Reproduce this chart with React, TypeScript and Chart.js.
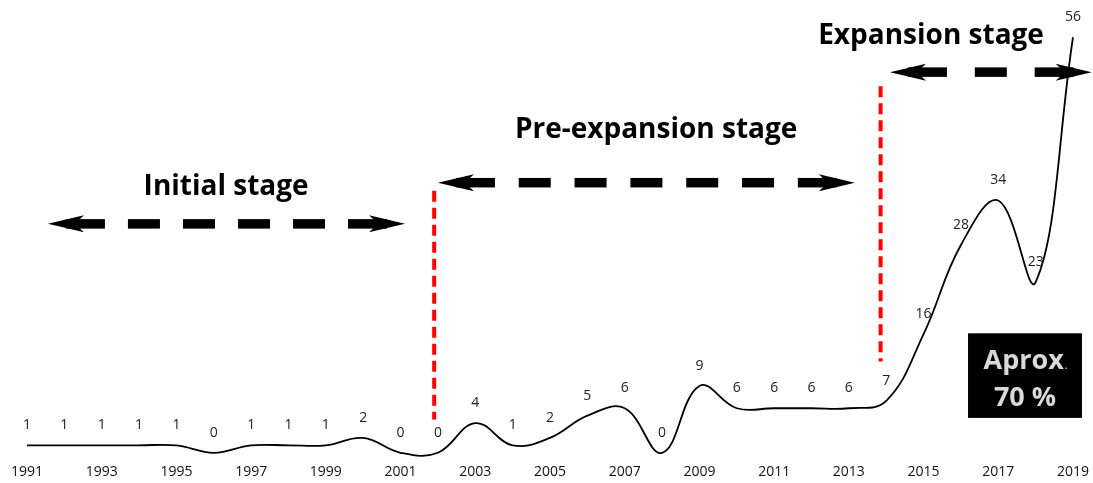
import React, { useEffect, useRef } from "react";
import { Chart, registerables } from "chart.js";

Chart.register(...registerables);

const years = [1991,1992,1993,1994,1995,1996,1997,1998,1999,2000,2001,2002,2003,2004,2005,2006,2007,2008,2009,2010,2011,2012,2013,2014,2015,2016,2017,2018,2019];
const counts = [1,1,1,1,1,0,1,1,1,2,0,0,4,1,2,5,6,0,9,6,6,6,6,7,16,28,34,23,56];
const stageLabels = ["Initial stage", "Pre-expansion stage", "Expansion stage"];
const boxLines = ["Aprox", "70 %"];

// annotation layout (data units)
const annot = {
  stages: [
    { text: stageLabels[0], tx: 1996.33, ty: 35.8, ax1: 1991.56, ax2: 2001.12, ay: 30.85 },
    { text: stageLabels[1], tx: 2007.84, ty: 43.5, ax1: 2002.0, ax2: 2013.16, ay: 36.4 },
    { text: stageLabels[2], tx: 2015.2, ty: 56.2, ax1: 2014.1, ax2: 2019.5, ay: 51.3 },
  ],
  redLines: [
    { x: 2001.9, y1: 35.3, y2: 4.5 },
    { x: 2013.85, y1: 49.4, y2: 12.3 },
  ],
  box: { x1: 2016.19, x2: 2019.24, y1: 16.1, y2: 4.7 },
};

function head(ctx: CanvasRenderingContext2D, tx: number, y: number, dir: number) {
  const L = 36, H = 8.5, notch = 27;
  ctx.beginPath();
  ctx.moveTo(tx, y);
  ctx.lineTo(tx + dir * L, y - H);
  ctx.lineTo(tx + dir * notch, y);
  ctx.lineTo(tx + dir * L, y + H);
  ctx.closePath();
  ctx.fill();
}

function dashedArrow(ctx: CanvasRenderingContext2D, x1: number, x2: number, y: number) {
  const thick = 9.5, end = 57, dash = 32, gap = 25;
  ctx.fillStyle = "#000";
  head(ctx, x1, y, 1);
  ctx.fillRect(x1 + 18, y - thick / 2, end - 18, thick);
  head(ctx, x2, y, -1);
  ctx.fillRect(x2 - end, y - thick / 2, end - 18, thick);
  const inner = x2 - end - (x1 + end);
  const n = Math.max(0, Math.round((inner - gap) / (dash + gap)));
  const g = (inner - n * dash) / (n + 1);
  for (let i = 0; i < n; i++) {
    const x = x1 + end + g + (dash + g) * i;
    ctx.fillRect(x, y - thick / 2, dash, thick);
  }
}

const annotPlugin = {
  id: "annotPlugin",
  afterDatasetsDraw(chart: any) {
    const ctx: CanvasRenderingContext2D = chart.ctx;
    const xs = chart.scales.x;
    const ys = chart.scales.y;
    const px = (v: number) => xs.getPixelForValue(v);
    const py = (v: number) => ys.getPixelForValue(v);
    ctx.save();
    // data labels
    ctx.font = "14px 'Open Sans'";
    ctx.fillStyle = "#222";
    ctx.textAlign = "center";
    ctx.textBaseline = "middle";
    years.forEach((yr, i) => {
      ctx.fillText(String(counts[i]), px(yr), py(counts[i]) - 20);
    });
    // red lines
    ctx.strokeStyle = "#ff0000";
    ctx.lineWidth = 4;
    ctx.setLineDash([11, 6]);
    annot.redLines.forEach((r) => {
      ctx.beginPath();
      ctx.moveTo(px(r.x), py(r.y1));
      ctx.lineTo(px(r.x), py(r.y2));
      ctx.stroke();
    });
    ctx.setLineDash([]);
    // stages
    annot.stages.forEach((s) => {
      ctx.font = "bold 28px 'Open Sans'";
      ctx.fillStyle = "#000";
      ctx.textAlign = "center";
      ctx.textBaseline = "middle";
      ctx.fillText(s.text, px(s.tx), py(s.ty));
      dashedArrow(ctx, px(s.ax1), px(s.ax2), py(s.ay));
    });
    // box
    const b = annot.box;
    const bx1 = px(b.x1), bx2 = px(b.x2), by1 = py(b.y1), by2 = py(b.y2);
    ctx.fillStyle = "#000";
    ctx.fillRect(bx1, by1, bx2 - bx1, by2 - by1);
    ctx.fillStyle = "#d9d9d9";
    ctx.font = "bold 27px 'Open Sans'";
    const cx = (bx1 + bx2) / 2;
    const w1 = ctx.measureText(boxLines[0]).width;
    ctx.font = "bold 9px 'Open Sans'";
    const wd = ctx.measureText(".").width;
    const start = cx - (w1 + wd) / 2;
    ctx.textAlign = "left";
    ctx.textBaseline = "alphabetic";
    ctx.font = "bold 27px 'Open Sans'";
    ctx.fillText(boxLines[0], start, by1 + 36);
    ctx.font = "bold 9px 'Open Sans'";
    ctx.fillText(".", start + w1 + 1, by1 + 36);
    ctx.font = "bold 27px 'Open Sans'";
    ctx.textAlign = "center";
    ctx.fillText(boxLines[1], cx, by1 + 73);
    ctx.restore();
  },
};

export default function App() {
  const ref = useRef<HTMLCanvasElement>(null);
  useEffect(() => {
    document.body.style.margin = "0";
    const chart = new Chart(ref.current as HTMLCanvasElement, {
      type: "line",
      data: {
        datasets: [
          {
            data: years.map((y, i) => ({ x: y, y: counts[i] })),
            borderColor: "#000",
            borderWidth: 1.8,
            pointRadius: 0,
            tension: 0.4,
            fill: false,
            clip: false as any,
          },
        ],
      },
      options: {
        animation: false,
        responsive: true,
        maintainAspectRatio: false,
        layout: { padding: { top: 15, left: 27, right: 20, bottom: 0 } },
        plugins: { legend: { display: false }, tooltip: { enabled: false } },
        scales: {
          x: {
            type: "linear",
            min: 1991,
            max: 2019,
            grid: { display: false, drawTicks: false },
            border: { display: false },
            ticks: {
              stepSize: 2,
              padding: 3,
              color: "#111",
              font: { family: "'Open Sans'", size: 14 },
              callback: (v: any) => String(v),
            },
          },
          y: { display: false, min: -1, max: 59 },
        },
      },
      plugins: [annotPlugin],
    });
    return () => chart.destroy();
  }, []);
  return (
    <div style={{ width: 1093, height: 483, position: "relative" }}>
      <canvas ref={ref} />
    </div>
  );
}
